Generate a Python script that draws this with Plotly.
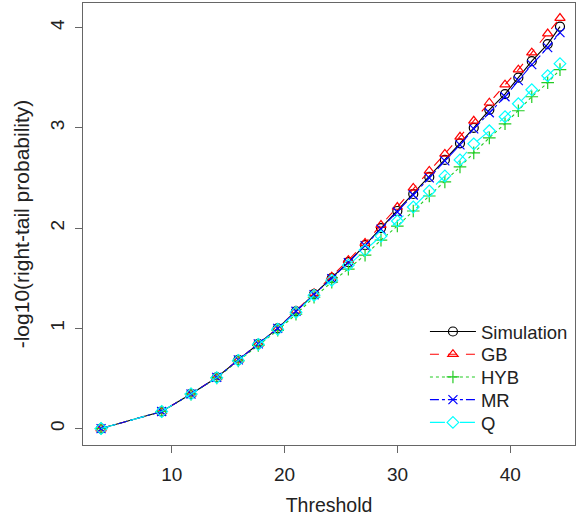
import plotly.graph_objects as go

threshold = [3.74, 9.11, 11.71, 13.99, 15.90, 17.67, 19.39, 21.01, 22.61, 24.18,
             25.65, 27.13, 28.54, 29.99, 31.40, 32.82, 34.20, 35.54, 36.76, 38.14,
             39.53, 40.71, 41.90, 43.31, 44.40]
simulation = [0.00, 0.17, 0.345, 0.51, 0.685, 0.845, 1.00, 1.17, 1.34, 1.50,
              1.66, 1.83, 2.00, 2.17, 2.34, 2.51, 2.68, 2.845, 3.00, 3.18,
              3.337, 3.50, 3.665, 3.835, 4.01]
gb = [0.00, 0.17, 0.345, 0.51, 0.685, 0.845, 1.00, 1.175, 1.35, 1.515,
      1.68, 1.85, 2.03, 2.21, 2.40, 2.57, 2.74, 2.91, 3.07, 3.25,
      3.43, 3.58, 3.75, 3.94, 4.095]
hyb = [0.00, 0.17, 0.343, 0.505, 0.675, 0.83, 0.98, 1.14, 1.31, 1.46,
       1.59, 1.73, 1.88, 2.02, 2.17, 2.32, 2.46, 2.61, 2.75, 2.90,
       3.04, 3.17, 3.31, 3.45, 3.58]
mr = [0.00, 0.17, 0.345, 0.51, 0.685, 0.845, 1.00, 1.17, 1.335, 1.495,
      1.655, 1.825, 1.99, 2.16, 2.33, 2.50, 2.67, 2.83, 2.99, 3.15,
      3.31, 3.47, 3.63, 3.80, 3.95]
q = [0.00, 0.17, 0.345, 0.508, 0.68, 0.84, 0.99, 1.16, 1.33, 1.48,
     1.63, 1.78, 1.92, 2.07, 2.21, 2.37, 2.52, 2.68, 2.84, 2.97,
     3.11, 3.24, 3.38, 3.52, 3.64]

x_ticks = [10, 20, 30, 40]
y_ticks = [0, 1, 2, 3, 4]

series = [
    ("Simulation", simulation, "#000000", "solid", "circle-open"),
    ("GB", gb, "#FF0000", "dash", "triangle-up-open"),
    ("HYB", hyb, "#22CC22", "dot", "cross-thin-open"),
    ("MR", mr, "#0000FF", "dashdot", "x-thin-open"),
    ("Q", q, "#00FFFF", "longdash", "diamond-open"),
]

legend_ids = ["legend", "legend2", "legend3", "legend4", "legend5"]

fig = go.Figure()
for (name, ys, color, dash, sym), lid in zip(series, legend_ids):
    fig.add_trace(go.Scatter(
        x=threshold, y=ys, name=name, mode="lines+markers",
        line=dict(color=color, width=1.1, dash=dash),
        marker=dict(symbol=sym, size=9, color=color,
                    line=dict(color=color, width=1.2)),
        legend=lid,
    ))

font_family = "Liberation Sans"
legend_top = 0.2557
legend_step = 0.0514
legend_layout = {}
for i, lid in enumerate(legend_ids):
    legend_layout[lid] = dict(
        x=0.695, y=legend_top - i * legend_step, xanchor="left", yanchor="middle",
        bgcolor="rgba(0,0,0,0)", font=dict(size=18.5, family=font_family),
        itemwidth=46)

fig.update_layout(
    width=578, height=523,
    margin=dict(l=83, r=3, t=3, b=78),
    plot_bgcolor="white", paper_bgcolor="white",
    font=dict(family=font_family, size=19, color="#222222"),
    showlegend=True,
    xaxis=dict(range=[2.14, 45.73], tickvals=x_ticks, ticks="outside",
               ticklen=7, tickcolor="#666666", showgrid=False, zeroline=False,
               showline=True, mirror=True, linecolor="#666666", linewidth=1.3,
               ticklabelstandoff=5,
               title=dict(text="Threshold", standoff=14,
                          font=dict(size=19.5, family=font_family))),
    yaxis=dict(range=[-0.164, 4.245], tickvals=y_ticks, ticks="outside",
               ticklen=7, tickcolor="#666666", showgrid=False, zeroline=False,
               showline=True, mirror=True, linecolor="#666666", linewidth=1.3,
               tickangle=-90, ticklabelstandoff=3,
               title=dict(text="-log10(right-tail probability)", standoff=11,
                          font=dict(size=21, family=font_family))),
    **legend_layout,
)

fig.write_html("out.html")
